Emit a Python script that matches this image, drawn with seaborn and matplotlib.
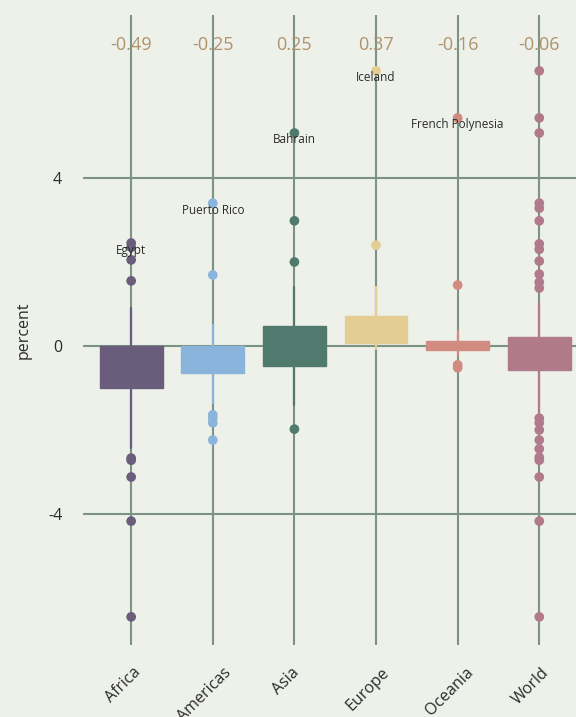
import matplotlib.pyplot as plt
import matplotlib.transforms as mtransforms
import pandas as pd
import seaborn as sns

# box statistics per region (percent)
continents = ["Africa", "Americas", "Asia", "Europe", "Oceania", "World"]
medians = [-0.49, -0.25, 0.25, 0.37, -0.16, -0.06]
q1 = [-1.0, -0.65, -0.47, 0.07, -0.10, -0.57]
q3 = [0.0, 0.0, 0.48, 0.71, 0.12, 0.21]
whis_lo = [-2.43, -1.36, -1.40, -0.07, -0.24, -1.60]
whis_hi = [0.90, 0.50, 1.40, 1.40, 0.36, 1.02]

out_africa = [2.45, 2.35, 2.05, 1.55, -2.67, -2.72, -3.12, -4.17, -6.45]
out_americas = [3.40, 1.69, -1.64, -1.72, -1.83, -2.24]
out_asia = [5.07, 2.98, 2.00, -1.98]
out_europe = [6.55, 2.40]
out_oceania = [5.43, 1.45, -0.45, -0.52]
out_world = [6.55, 5.43, 5.07, 3.40, 3.28, 2.98, 2.43, 2.30, 2.02, 1.71, 1.52, 1.38,
             -1.72, -1.83, -2.00, -2.24, -2.45, -2.65, -2.72, -3.12, -4.17, -6.45]

label_names = ["Egypt", "Puerto Rico", "Bahrain", "Iceland", "French Polynesia"]
label_groups = ["Africa", "Americas", "Asia", "Europe", "Oceania"]
label_values = [2.45, 3.40, 5.07, 6.55, 5.43]

colors = ["#6a5d7b", "#8ab4db", "#517a6f", "#e4cd93", "#d28b80", "#b07a8a"]
bg = "#edf1ea"
grid_col = "#7a9383"

sns.set_theme(style="whitegrid")
plt.rcParams["font.family"] = ["Open Sans", "DejaVu Sans"]

fig = plt.figure(figsize=(5.76, 7.17), dpi=100, facecolor=bg)
ax = fig.add_axes([83 / 576, 1 - 645 / 717, 1 - 83 / 576, (645 - 15) / 717])
ax.set_facecolor(bg)

outliers = [out_africa, out_americas, out_asia, out_europe, out_oceania, out_world]
stats = []
for i, name in enumerate(continents):
    stats.append({"med": medians[i], "q1": q1[i], "q3": q3[i],
                  "whislo": whis_lo[i], "whishi": whis_hi[i], "fliers": []})

bp = ax.bxp(stats, positions=range(len(continents)), widths=0.77,
            patch_artist=True, showcaps=False, showfliers=False)
for i, box in enumerate(bp["boxes"]):
    box.set_facecolor(colors[i])
    box.set_edgecolor(colors[i])
    box.set_zorder(4)
for i, w in enumerate(bp["whiskers"]):
    w.set_color(colors[i // 2])
    w.set_linewidth(1.6)
    w.set_zorder(3)
for m in bp["medians"]:
    m.set_visible(False)

df_out = pd.DataFrame({
    "continent": [c for c, vals in zip(continents, outliers) for _ in vals],
    "value": [v for vals in outliers for v in vals],
})
sns.stripplot(data=df_out, x="continent", y="value", hue="continent",
              order=continents, hue_order=continents, palette=colors,
              jitter=False, size=7, linewidth=0, legend=False, ax=ax, zorder=5)

for name, grp, val in zip(label_names, label_groups, label_values):
    ax.annotate(name, (continents.index(grp), val), xytext=(0, -5),
                textcoords="offset points", ha="center", va="center",
                fontsize=8.5, color="#2b2b2b", zorder=6)

for i, med in enumerate(medians):
    ax.text(i, 7.17, f"{med:.2f}", ha="center", va="center",
            fontsize=13, color="#b0926c")

ax.set_xlim(-0.59, 5.45)
ax.set_ylim(-7.12, 7.88)
ax.set_yticks([-4, 0, 4])
ax.set_yticklabels(["-4", "0", "4"])
ax.set_xticks(range(len(continents)))
ax.set_xticklabels(continents, rotation=45, ha="center", va="top")
ax.tick_params(axis="both", length=0, labelsize=11.5, colors="#2b2b2b")
ax.tick_params(axis="y", pad=15)
ax.tick_params(axis="x", pad=14)
shift = mtransforms.ScaledTranslation(-8 / 100, 0, fig.dpi_scale_trans)
for lab in ax.get_xticklabels():
    lab.set_transform(lab.get_transform() + shift)
ax.set_xlabel("")
ax.set_ylabel("percent", fontsize=11.5, color="#2b2b2b", labelpad=12)
ax.grid(True, color=grid_col, linewidth=1.5)
ax.set_axisbelow(True)
for s in ax.spines.values():
    s.set_visible(False)

fig.savefig("out.png", dpi=100, facecolor=bg)
